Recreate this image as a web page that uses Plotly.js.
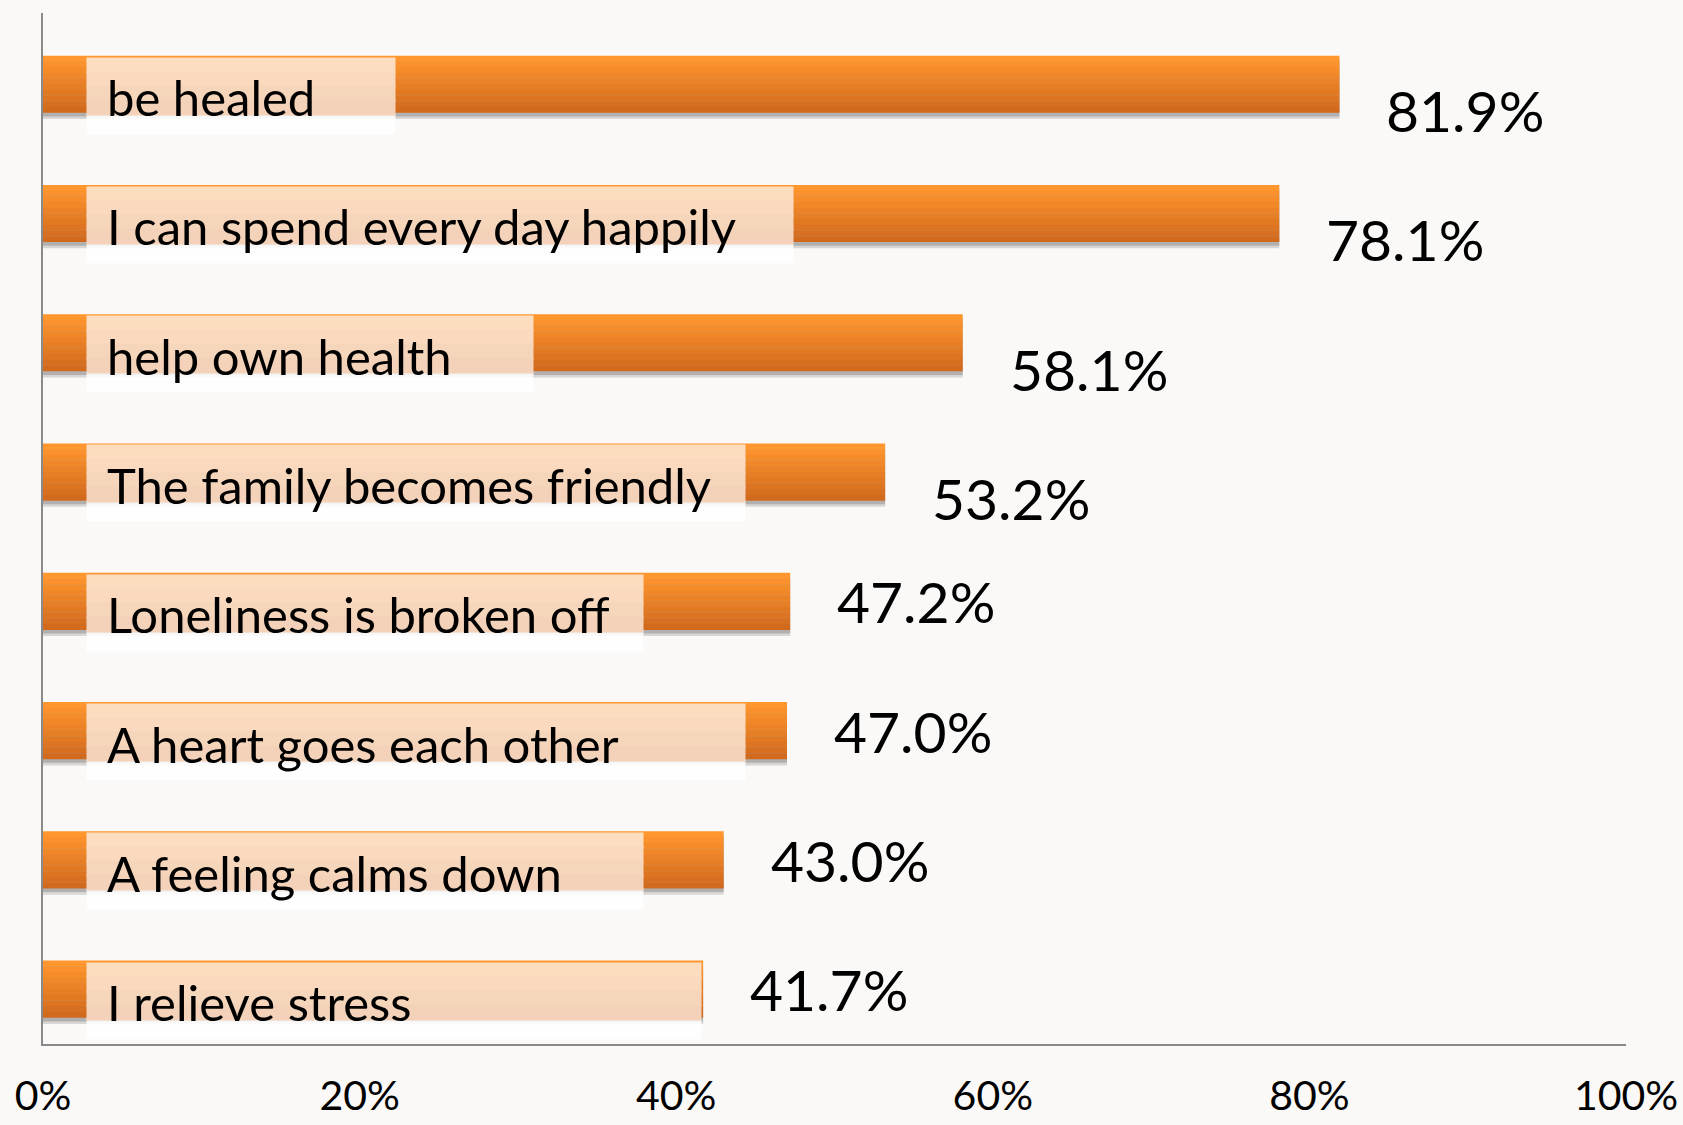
<!DOCTYPE html>
<html>
<head>
<meta charset="utf-8">
<script src="https://cdn.plot.ly/plotly-3.0.1.min.js"></script>
<style>
html,body{margin:0;padding:0;background:#FAF9F7;}
#chart{width:1683px;height:1125px;}
</style>
</head>
<body>
<div id="chart"></div>
<script>
// ---- data ----
const categories = [
  "be healed",
  "I can spend every day happily",
  "help own health",
  "The family becomes friendly",
  "Loneliness is broken off",
  "A heart goes each other",
  "A feeling calms down",
  "I relieve stress"
];
const values = [81.9, 78.1, 58.1, 53.2, 47.2, 47.0, 43.0, 41.7];
const valueLabels = ["81.9%", "78.1%", "58.1%", "53.2%", "47.2%", "47.0%", "43.0%", "41.7%"];
const tickVals = [0, 20, 40, 60, 80, 100];
const tickText = ["0%", "20%", "40%", "60%", "80%", "100%"];

// ---- layout styling ----
const labelBoxWidth = [308, 706, 446, 658, 556, 658, 556, 614]; // px width of the label text boxes
const valueLabelDrop = [1, 1, 1, 1, 0, 0, 0, 0]; // 1 = value label sits at the bar's lower edge
const BAR_W = 0.44;
const BAR_PX = 57;
const FONT = "Lato, 'Open Sans', sans-serif";

function lerp(a, b, t) { return Math.round(a + (b - a) * t); }
const colTop = [255, 150, 46], colBot = [210, 106, 30];

const traces = [];
// shadow
traces.push({
  type: 'bar', orientation: 'h', x: values, y: categories,
  width: BAR_W, offset: -BAR_W / 2 + 0.05,
  marker: {color: 'rgba(90,90,90,0.22)', line: {width: 0}},
  hoverinfo: 'skip', showlegend: false
});
traces.push({
  type: 'bar', orientation: 'h', x: values, y: categories,
  width: BAR_W, offset: -BAR_W / 2 + 0.03,
  marker: {color: 'rgba(90,90,90,0.3)', line: {width: 0}},
  hoverinfo: 'skip', showlegend: false
});
// gradient bands of the bar
const N = 10;
for (let k = 0; k < N; k++) {
  const t = k / (N - 1);
  const c = 'rgb(' + lerp(colTop[0], colBot[0], t) + ',' + lerp(colTop[1], colBot[1], t) + ',' + lerp(colTop[2], colBot[2], t) + ')';
  traces.push({
    type: 'bar', orientation: 'h', x: values, y: categories,
    width: BAR_W / N + 0.002, offset: -BAR_W / 2 + k * BAR_W / N,
    marker: {color: c, line: {width: 0}},
    hoverinfo: 'skip', showlegend: false
  });
}

const peachTop = [253, 221, 192], peachBot = [243, 210, 185];
const PB = 4;
const annotations = [];
categories.forEach((cat, i) => {
  // lower whitish part of the label box
  annotations.push({
    x: 0, y: cat, xref: 'x', yref: 'y', xanchor: 'left', yanchor: 'top',
    xshift: 43, yshift: BAR_PX / 2 - BAR_PX, text: ' ', showarrow: false,
    width: labelBoxWidth[i], height: 20, borderpad: 0,
    bgcolor: 'rgba(255,255,255,0.85)'
  });
  // upper peach part (banded gradient)
  for (let k = 0; k < PB; k++) {
    const t = k / (PB - 1);
    const c = 'rgb(' + lerp(peachTop[0], peachBot[0], t) + ',' + lerp(peachTop[1], peachBot[1], t) + ',' + lerp(peachTop[2], peachBot[2], t) + ')';
    annotations.push({
      x: 0, y: cat, xref: 'x', yref: 'y', xanchor: 'left', yanchor: 'top',
      xshift: 43, yshift: BAR_PX / 2 - 1 - k * (BAR_PX - 1) / PB, text: ' ', showarrow: false,
      width: labelBoxWidth[i], height: (BAR_PX - 1) / PB + 1, borderpad: 0,
      bgcolor: c
    });
  }
  // category text
  annotations.push({
    x: 0, y: cat, xref: 'x', yref: 'y', xanchor: 'left', yanchor: 'middle',
    xshift: 62, yshift: -13, text: cat, showarrow: false,
    font: {family: FONT, size: 49, color: '#000'}
  });
  // value text
  annotations.push({
    x: values[i], y: cat, xref: 'x', yref: 'y', xanchor: 'left', yanchor: 'middle',
    xshift: 45, yshift: valueLabelDrop[i] ? -26 : 0, text: valueLabels[i], showarrow: false,
    font: {family: FONT, size: 57, color: '#000'}
  });
});

const layout = {
  width: 1683, height: 1125,
  paper_bgcolor: '#FAF9F7', plot_bgcolor: '#FAF9F7',
  margin: {l: 43, r: 57, t: 13, b: 81},
  barmode: 'overlay',
  showlegend: false,
  xaxis: {
    range: [0, 100], tickvals: tickVals, ticktext: tickText,
    showgrid: false, zeroline: false, showline: true, linecolor: '#8A8A8A', linewidth: 2,
    ticks: '', tickfont: {family: FONT, size: 41, color: '#000'}, ticklabelstandoff: 15,
    fixedrange: true
  },
  yaxis: {
    type: 'category', categoryorder: 'array', categoryarray: categories,
    range: [7.425, -0.55],
    showgrid: false, zeroline: false, showline: true, linecolor: '#8A8A8A', linewidth: 2,
    showticklabels: false, ticks: '', fixedrange: true
  },
  annotations: annotations
};

Plotly.newPlot('chart', traces, layout, {displayModeBar: false, staticPlot: true});
</script>
</body>
</html>
